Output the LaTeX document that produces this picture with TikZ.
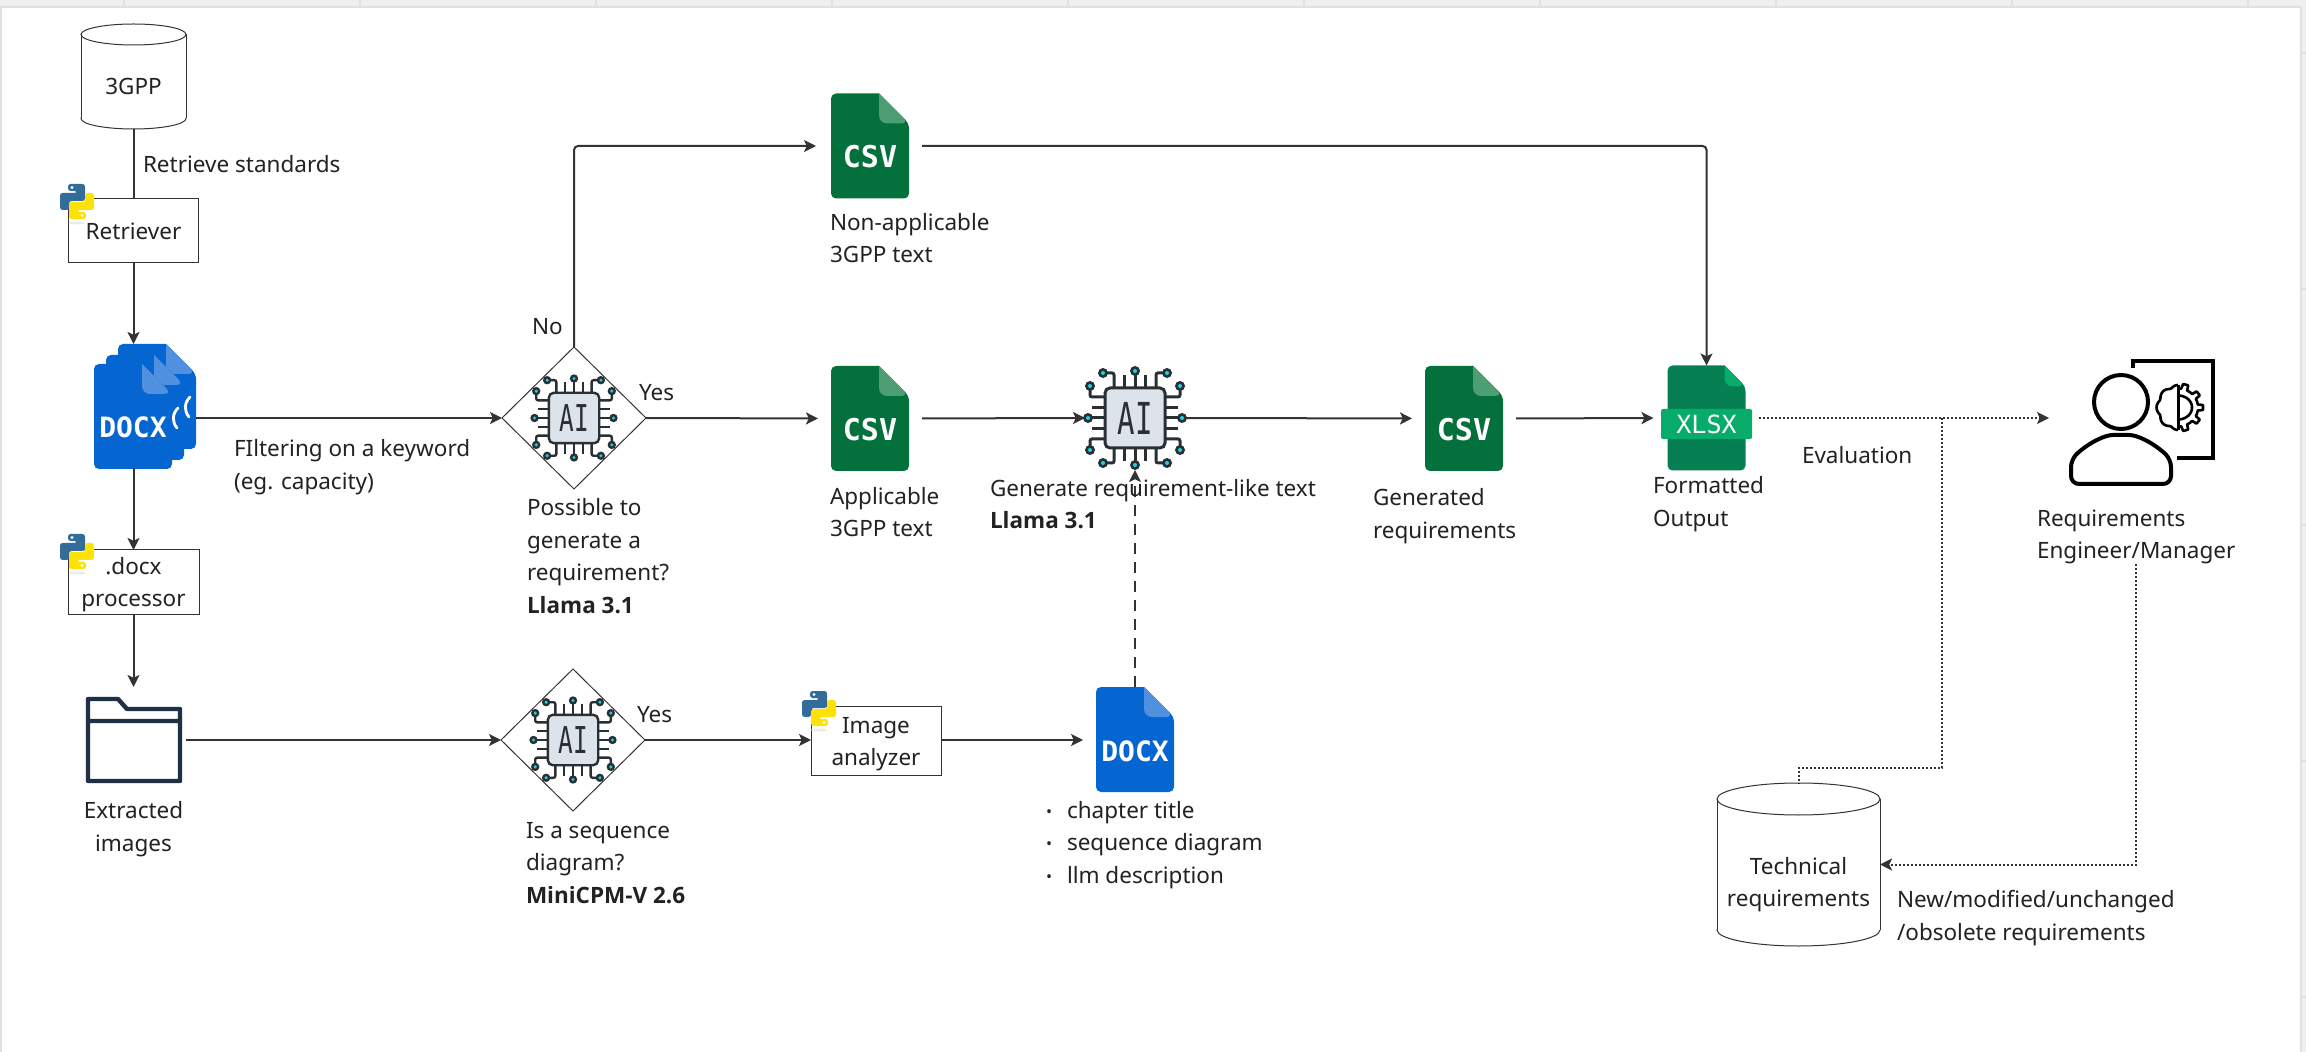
\documentclass[tikz,border=0pt]{standalone}
\usepackage{fontspec}
\setmainfont{Noto Sans}
\newfontfamily\modelfont{Open Sans}
\newfontfamily\iconfont{DejaVu Sans Mono}
\usetikzlibrary{arrows.meta,shapes.geometric}
\definecolor{linegray}{HTML}{333333}
\definecolor{textgray}{HTML}{222222}
\definecolor{stripgray}{HTML}{F0F0F0}
\definecolor{stripline}{HTML}{E0E0E0}
\definecolor{csvbody}{HTML}{04703B}
\definecolor{csvfold}{HTML}{4D9E73}
\definecolor{docbody}{HTML}{0565D1}
\definecolor{docfold}{HTML}{5090DF}
\definecolor{xlsbody}{HTML}{068052}
\definecolor{xlsband}{HTML}{07AC6B}
\definecolor{chipdark}{HTML}{2A2F33}
\definecolor{chipface}{HTML}{DDE3EA}
\definecolor{chippin}{HTML}{19D3EA}
\definecolor{folderline}{HTML}{1F3044}
\def\u{0.5pt}
\def\txt{\fontsize{11.25}{16.2}\selectfont}
\def\model#1{{\modelfont\bfseries #1}}
\tikzset{
  x=\u,y=-\u,
  lbl/.style={inner sep=0pt,outer sep=0pt,text=textgray,align=left,anchor=west,font=\txt},
  boxnode/.style={draw=linegray,line width=.5pt,fill=white,inner sep=0pt,outer sep=0pt,align=center,text=textgray,font=\txt},
  cylnode/.style={inner sep=0pt,outer sep=0pt},
  cyltext/.style={inner sep=0pt,outer sep=0pt,align=center,text=textgray,font=\txt},
  iconbox/.style={inner sep=0pt,outer sep=0pt,minimum width=78*\u,minimum height=105*\u},
  icontext/.style={inner sep=0pt,outer sep=0pt,text=white,font=\iconfont\bfseries\fontsize{15}{15}\selectfont},
  decision/.style={diamond,draw=linegray,line width=.5pt,inner sep=0pt,outer sep=0pt,minimum width=144*\u,minimum height=142*\u},
  link/.style={draw=linegray,line width=1pt},
  flow/.style={link,-{Stealth[length=6pt,width=6pt,inset=1.4pt]}},
  evalflow/.style={flow,dash pattern=on 1pt off 1pt},
  evalline/.style={link,dash pattern=on 1pt off 1pt},
  feedflow/.style={flow,dash pattern=on 5.5pt off 4pt},
  pics/fileicon/.style n args={4}{code={
    \fill[#1,rounded corners=2.5pt] (#3,0) -- (0,0) -- (0,105) -- (78,105) -- (78,#4) [sharp corners] -- cycle;
    \fill[#2,rounded corners=4pt] (#3,0) -- (#3,#4) -- (78,#4) [sharp corners] -- cycle;
  }},
  pics/dbcyl/.style n args={3}{code={
    \draw[draw=linegray,line width=.5pt,fill=white] ({#1/2},{#2-#3}) ellipse [x radius={#1/2},y radius=#3];
    \fill[white] (0,#3) rectangle (#1,{#2-#3});
    \draw[draw=linegray,line width=.5pt] (0,#3) -- (0,{#2-#3}) (#1,#3) -- (#1,{#2-#3});
    \draw[draw=linegray,line width=.5pt] ({#1/2},#3) ellipse [x radius={#1/2},y radius=#3];
  }},
  pics/pyicon/.style={code={
    \fill[black!8] (17,39) ellipse [x radius=8,y radius=1.5];
    \fill[blue!45!cyan!50!black!80!white,rounded corners=1.3pt] (8,0) -- (25,0) -- (25,17) -- (9,17) -- (9,26) -- (0,26) -- (0,9) -- (17,9) -- (17,7) -- (8,7) -- cycle;
    \fill[yellow!85!orange,rounded corners=1.3pt] (26,35) -- (9,35) -- (9,18) -- (25,18) -- (25,9) -- (34,9) -- (34,26) -- (17,26) -- (17,28) -- (26,28) -- cycle;
    \fill[white] (12,3.5) circle[radius=1.6] (22,31.5) circle[radius=1.6];
  }},
  pics/aichip/.style={code={
    \foreach \a in {0,90,180,270}{
      \begin{scope}[rotate=\a]
        \draw[chipdark] (0,-30) -- (0,-45) (-10.5,-30) -- (-10.5,-43) (10.5,-30) -- (10.5,-43);
        \draw[chipdark,rounded corners=1pt] (-21,-30) -- (-21,-45) -- (-32,-45) (21,-30) -- (21,-45) -- (32,-45);
        \foreach \p in {(0,-47),(-32,-45),(32,-45)}{
          \fill[chipdark] \p circle[radius=5];
          \fill[chippin] \p circle[radius=2];
        }
      \end{scope}
    }
    \draw[chipdark,fill=chipface,rounded corners=2.5pt] (-30,-30) rectangle (30,30);
  }},
  pics/docstack/.style={code={
    \pic at (24,0) {fileicon={docbody}{docfold}{48}{30}};
    \pic at (12,11) {fileicon={docbody}{docfold}{48}{30}};
    \pic at (0,20) {fileicon={docbody}{docfold}{48}{30}};
    \draw[white,line width=1.4pt,line cap=round] (84,64) .. controls (78,70) and (78,78) .. (83,84) (96,53) .. controls (90,59) and (90,67) .. (95,73);
  }},
  pics/foldericon/.style={code={
    \draw[folderline,line width=2.2pt,line join=round] (2,2) -- (32,2) -- (41,12) -- (94,12) -- (94,84) -- (2,84) -- cycle (2,24) -- (94,24);
  }},
  pics/engicon/.style={code={
    \draw[black,line width=2pt] (50,42) circle[radius=27];
    \draw[black,line width=2pt,rounded corners=4pt] (0,99) .. controls (19,82) and (34,75) .. (50,75) .. controls (66,75) and (81,82) .. (100,99) -- (100,124) -- (0,124) -- cycle;
    \draw[black,line width=2pt] (62,8) -- (62,1) -- (142,1) -- (142,98) -- (106,98);
    \draw[black,line width=1.5pt] (107,25) -- (107,70);
    \draw[black,line width=1.3pt,line join=round,shift={(107,47.5)},domain=-90:90,samples=61] plot ({(cos(10*\x)>0?25:20)*cos(\x)},{(cos(10*\x)>0?24:19)*sin(\x)});
    \draw[black,line width=1.3pt,shift={(107,47.5)},domain=-90:90,samples=25] plot ({14*cos(\x)},{12*sin(\x)});
    \draw[black,line width=1.3pt,smooth,shift={(107,47.5)},domain=90:270,samples=37] plot ({(19+2.5*abs(cos(4*\x)))*cos(\x)},{(20+2.5*abs(cos(4*\x)))*sin(\x)});
  }}
}
\newcommand{\csvicon}[2]{%
  \node[iconbox] (#1) at (#2) {};
  \pic at (#1.north west) {fileicon={csvbody}{csvfold}{48}{30}};
  \node[icontext] (#1txt) at ([yshift=-5.5pt]#1.center) {CSV};
}
\newcommand{\aichip}[4]{%
  \pic[scale=#3,line width=#4] at (#1) {aichip};
  \node[inner sep=0pt,text=chipdark,xscale=.66*#3,yscale=#3,transform shape,font=\iconfont\fontsize{22}{22}\selectfont] (#2) at (#1) {AI};
}
\begin{document}
\begin{tikzpicture}
\useasboundingbox (0,0) rectangle (2306,1052);
\fill[stripgray] (0,0) rectangle (2306,1052);
\fill[white] (1,8) rectangle (2300,1052);
\draw[stripline,line width=1pt] (0,7) -- (2300.5,7) -- (2300.5,1052) (0.5,7) -- (0.5,1052);
\foreach \i in {124,360,...,2248}{
  \draw[stripline,line width=1pt] (\i,0) -- (\i,7);
}
\foreach \j in {53,289,525,761,997}{
  \draw[stripline,line width=1pt] (2301,\j) -- (2306,\j);
}

\pic at (81,24) {dbcyl={105}{105}{10.5}};
\node[cylnode,minimum width=105*\u,minimum height=105*\u] (gpp) at (133.5,76.5) {};
\node[cyltext] (gpptxt) at (133.5,86) {3GPP};
\node[boxnode,minimum width=130*\u,minimum height=64*\u] (ret) at (133.5,231) {Retriever};
\pic at (60,184) {pyicon};

\node[iconbox,minimum width=102*\u,minimum height=124*\u] (docs) at (145,406) {};
\pic at (docs.north west) {docstack};
\node[icontext,font=\iconfont\bfseries\fontsize{14}{14}\selectfont] (docstxt) at (133,427) {DOCX};

\node[boxnode,minimum width=131*\u,minimum height=65*\u] (proc) at (133.5,582.5) {\rule{0pt}{10.6pt}.docx\\processor};
\pic at (60,534) {pyicon};
\node[iconbox,minimum width=96*\u,minimum height=86*\u] (imgs) at (134,740) {};
\pic at (imgs.north west) {foldericon};

\node[decision] (flt) at (574,418) {};
\aichip{flt}{fltchip}{.84}{1.2pt}
\node[decision] (seq) at (573,740) {};
\aichip{seq}{seqchip}{.84}{1.2pt}

\csvicon{csvA}{870,146}
\csvicon{csvB}{870,418.5}
\csvicon{csvC}{1464,418.5}

\node[iconbox,minimum size=100*\u] (gen) at (1135,418) {};
\aichip{gen}{genchip}{1}{1.5pt}

\node[iconbox] (xls) at (1706.5,418) {};
\pic at (xls.north west) {fileicon={xlsbody}{xlsband}{57}{21}};
\fill[xlsband,rounded corners=1pt] (1661,409) rectangle (1752,439);
\node[icontext,font=\iconfont\fontsize{12.5}{12.5}\selectfont] (xlstxt) at (1706.5,424.5) {XLSX};

\node[iconbox,minimum width=142*\u,minimum height=124*\u] (eng) at (2142,422) {};
\pic at (eng.north west) {engicon};

\node[boxnode,minimum width=130*\u,minimum height=69*\u] (ana) at (876,740.5) {\rule{0pt}{11.6pt}Image\\analyzer};
\pic at (802,691) {pyicon};

\node[iconbox,minimum height=106*\u] (docB) at (1135,740) {};
\pic at (docB.north west) {fileicon={docbody}{docfold}{48}{30}};
\node[icontext,font=\iconfont\bfseries\fontsize{14}{14}\selectfont] (docBtxt) at (1135,751) {DOCX};

\pic at (1717,783) {dbcyl={163}{163}{16}};
\node[cylnode,minimum width=163*\u,minimum height=163*\u] (tech) at (1798.5,864.5) {};
\node[cyltext] (techtxt) at (1798.5,884.5) {Technical\\requirements};

\draw[link] (gpp.south) -- (ret.north);
\draw[flow] (ret.south) -- (ret.south |- docs.north);
\draw[flow] (docs.east |- flt.west) -- (flt.west);
\draw[flow] (ret.south |- docs.south) -- (proc.north);
\draw[flow,shorten >=5pt] (proc.south) -- (imgs.north -| proc.south);
\draw[flow,shorten <=2pt] (imgs.east) -- (seq.west);
\draw[flow] (seq.east) -- (ana.west |- seq.east);
\draw[flow,shorten >=6.5pt] (ana.east |- docB.west) -- (docB.west);
\draw[flow,shorten >=6.5pt] (flt.east) -- (csvB.west);
\draw[flow,shorten <=6.5pt] (csvB.east) -- (gen.west);
\draw[flow,shorten >=6.5pt] (gen.east) -- (csvC.west);
\draw[flow,shorten <=6.5pt,shorten >=7pt] (csvC.east) -- (xls.west);
\draw[flow,rounded corners=2pt,shorten >=7.5pt] (flt.north) |- (csvA.west);
\draw[flow,rounded corners=2pt,shorten <=6.5pt] (csvA.east) -| (xls.north);
\draw[feedflow,shorten >=1pt] (docB.north) -- (gen.south);
\coordinate (tap) at (1942,418);
\coordinate (bend) at (1942,768);
\draw[evalflow,shorten <=6.5pt,shorten >=11pt] (xls.east) -- (xls.east -| eng.west);
\draw[evalline] (tap) -- (bend) -| (tech.north);

\node[lbl] (lblret) at (143,164) {Retrieve standards};
\node[lbl] (lblflt) at (234,467) {FIltering on a keyword\\(eg. capacity)};
\node[lbl] (lblno) at (532,327) {No};
\node[lbl] (lblyes) at (639,393) {Yes};
\node[lbl] (lblposs) at (527,556) {Possible to\\generate a\\requirement?\\\model{Llama 3.1}};
\node[lbl] (lblcsvA) at (830,238) {Non-applicable\\3GPP text};
\node[lbl] (lblcsvB) at (830,512) {Applicable\\3GPP text};
\node[lbl] (lblgen) at (990,504) {Generate requirement-like text\\\model{Llama 3.1}};
\node[lbl] (lblcsvC) at (1373,516) {Generated\\requirements};
\node[lbl] (lblxls) at (1653,504) {Formatted\\Output};
\node[lbl] (lbleval) at (1802,455) {Evaluation};
\node[lbl] (lbleng) at (2037,537) {Requirements\\Engineer/Manager};
\node[lbl] (lblnew) at (1897,918) {New/modified/unchanged\\/obsolete requirements};
\node[lbl,anchor=center,align=center] (lblimgs) at (133.5,829) {Extracted\\images};
\node[lbl] (lblseq) at (526,863) {Is a sequence\\diagram?\\\model{MiniCPM-V 2.6}};
\node[lbl] (lblyes2) at (637,715) {Yes};
\def\blt{\makebox[10.5pt][l]{\raisebox{.6pt}{\fontsize{8}{8}\selectfont•}}}
\node[lbl] (lbldoc) at (1046,845) {\blt chapter title\\\blt sequence diagram\\\blt llm description};

\draw[evalflow] (lbleng.south) |- (tech.east);
\end{tikzpicture}
\end{document}
